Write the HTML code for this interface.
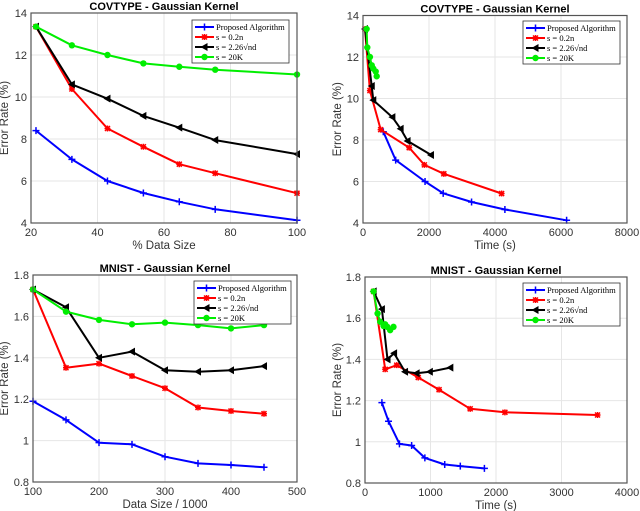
<!DOCTYPE html>
<html><head><meta charset="utf-8"><style>
html,body{margin:0;padding:0;background:#fff;}
svg{display:block;font-family:"Liberation Sans",sans-serif;}
</style></head><body>
<svg id="fig" width="640" height="511" viewBox="0 0 640 511" xmlns="http://www.w3.org/2000/svg"></svg>
<script>
// ---- data ----
const covSizeX = [21.5, 32.3, 43, 53.8, 64.6, 75.4, 100];
const covProposed = [8.4, 7.03, 6.0, 5.43, 5.01, 4.65, 4.13];
const covS02 = [13.35, 10.38, 8.5, 7.63, 6.8, 6.37, 5.42];
const covS226 = [13.35, 10.6, 9.92, 9.1, 8.54, 7.95, 7.28];
const cov20K = [13.35, 12.46, 12.0, 11.6, 11.44, 11.3, 11.07];
const covTimeProposed = [615, 990, 1880, 2430, 3290, 4300, 6170];
const covTimeS02 = [60, 210, 535, 1400, 1860, 2450, 4200];
const covTimeS226 = [60, 265, 312, 890, 1140, 1350, 2060];
const covTime20K = [110, 130, 210, 265, 312, 385, 415];
const mnSizeX = [100, 150, 200, 250, 300, 350, 400, 450];
const mnProposed = [1.19, 1.10, 0.99, 0.982, 0.922, 0.89, 0.882, 0.871];
const mnS02 = [1.73, 1.352, 1.372, 1.312, 1.253, 1.16, 1.143, 1.13];
const mnS226 = [1.73, 1.644, 1.40, 1.43, 1.34, 1.333, 1.34, 1.36];
const mn20K = [1.73, 1.623, 1.583, 1.562, 1.57, 1.558, 1.542, 1.558];
const mnTimeProposed = [258, 359, 526, 712, 914, 1217, 1455, 1823];
const mnTimeS02 = [132, 308, 485, 813, 1131, 1606, 2136, 3550];
const mnTimeS226 = [132, 258, 344, 444, 611, 788, 990, 1303];
const mnTime20K = [130, 192, 232, 283, 308, 340, 384, 435];
const covYTicks = [4, 6, 8, 10, 12, 14];
const mnYTicks = [0.8, 1, 1.2, 1.4, 1.6, 1.8];
const sizeTicks = [20, 40, 60, 80, 100];
const covTimeTicks = [0, 2000, 4000, 6000, 8000];
const mnSizeTicks = [100, 200, 300, 400, 500];
const mnTimeTicks = [0, 1000, 2000, 3000, 4000];
const legendLabels = ["Proposed Algorithm", "s = 0.2n", "s = 2.26\u221And", "s = 20K"];
const colors = ["#0000ff", "#ff0000", "#000000", "#00ee00"];

const NS = "http://www.w3.org/2000/svg";
const svg = document.getElementById("fig");
function mk(tag, attrs, parent) {
  const e = document.createElementNS(NS, tag);
  for (const k in attrs) e.setAttribute(k, attrs[k]);
  (parent || svg).appendChild(e);
  return e;
}
function marker(g, type, x, y, c) {
  let m;
  if (type === 0) {
    m = mk("path", {d:`M${x-3.5},${y}H${x+3.5}M${x},${y-3.5}V${y+3.5}`, stroke:c, "stroke-width":1.5}, g);
  } else if (type === 1) {
    m = mk("path", {d:`M${x-3},${y}H${x+3}M${x},${y-3}V${y+3}M${x-2.5},${y-2.5}L${x+2.5},${y+2.5}M${x-2.5},${y+2.5}L${x+2.5},${y-2.5}`, stroke:c, "stroke-width":1.5}, g);
  } else if (type === 2) {
    m = mk("path", {d:`M${x-4},${y}L${x+3},${y-4}L${x+3},${y+4}Z`, fill:c}, g);
  } else {
    m = mk("circle", {cx:x, cy:y, r:3.2, fill:c}, g);
  }
  
  
}
function panel(p) {
  const g = mk("g", {});
  
  
  const sx = v => p.x0 + (v - p.xmin) / (p.xmax - p.xmin) * (p.x1 - p.x0);
  const sy = v => p.y1 - (v - p.ymin) / (p.ymax - p.ymin) * (p.y1 - p.y0);
  p.xt.forEach(t => { const X = sx(t); const l = mk("line", {x1:X, x2:X, y1:p.y0, y2:p.y1, stroke:"#e6e6e6", "stroke-width":1}, g);
      });
  p.yt.forEach(t => { const Y = sy(t); const l = mk("line", {x1:p.x0, x2:p.x1, y1:Y, y2:Y, stroke:"#e6e6e6", "stroke-width":1}, g);
      });
  p.series.forEach((s, i) => {
    const sg = mk("g", {}, g);
    
    
    const pts = s.x.map((v, k) => sx(v).toFixed(1) + "," + sy(s.y[k]).toFixed(1)).join(" ");
    const pl = mk("polyline", {points:pts, fill:"none", stroke:colors[i], "stroke-width":2, "stroke-linejoin":"round"}, sg);
    
    
    s.x.forEach((v, k) => marker(sg, i, sx(v), sy(s.y[k]), colors[i]));
  });
  const box = mk("rect", {x:p.x0, y:p.y0, width:p.x1-p.x0, height:p.y1-p.y0, fill:"none", stroke:"#555", "stroke-width":1.2}, g);
  
  
  p.xt.forEach(t => { const tx = mk("text", {x:sx(t), y:p.y1+13, "text-anchor":"middle", "font-size":11, fill:"#333"}, g);
    tx.textContent = t;   });
  p.yt.forEach(t => { const tx = mk("text", {x:p.x0-4, y:sy(t)+4, "text-anchor":"end", "font-size":11, fill:"#333"}, g);
    tx.textContent = t;   });
  const xl = mk("text", {x:(p.x0+p.x1)/2, y:p.y1+26, "text-anchor":"middle", "font-size":11.5, fill:"#333"}, g);
  xl.textContent = p.xlabel;  
  const yx = p.yx, yy = (p.y0+p.y1)/2;
  const yl = mk("text", {x:yx, y:yy, "text-anchor":"middle", "font-size":11.5, fill:"#333", transform:`rotate(-90 ${yx} ${yy})`}, g);
  yl.textContent = "Error Rate (%)";  
  const ti = mk("text", {x:(p.x0+p.x1)/2, y:p.y0-3, "text-anchor":"middle", "font-size":11, "font-weight":"bold", fill:"#000"}, g);
  ti.textContent = p.title;  
  const lg = mk("g", {}, g);
  
  
  mk("rect", {x:p.lx, y:p.ly, width:97, height:43, fill:"#fff", stroke:"#333", "stroke-width":0.8}, lg);
  legendLabels.forEach((lab, i) => {
    const y = p.ly + 7 + i * 10;
    const e = mk("g", {}, lg);
    
    
    mk("line", {x1:p.lx+3, x2:p.lx+22, y1:y, y2:y, stroke:colors[i], "stroke-width":2}, e);
    marker(e, i, p.lx+12.5, y, colors[i]);
    const t = mk("text", {x:p.lx+24, y:y+3, "font-size":8.5, "font-family":"Liberation Serif, serif", fill:"#000"}, e);
    t.textContent = lab;
  });
}
panel({name:"covtype-size-chart", title:"COVTYPE - Gaussian Kernel", xlabel:"% Data Size", yx:8,
  x0:31, x1:297, y0:13, y1:223, xmin:20, xmax:100, ymin:4, ymax:14, xt:sizeTicks, yt:covYTicks, lx:192, ly:20,
  series:[{x:covSizeX,y:covProposed},{x:covSizeX,y:covS02},{x:covSizeX,y:covS226},{x:covSizeX,y:cov20K}]});
panel({name:"covtype-time-chart", title:"COVTYPE - Gaussian Kernel", xlabel:"Time (s)", yx:341,
  x0:363, x1:627, y0:15.5, y1:223, xmin:0, xmax:8000, ymin:4, ymax:14, xt:covTimeTicks, yt:covYTicks, lx:523, ly:21,
  series:[{x:covTimeProposed,y:covProposed},{x:covTimeS02,y:covS02},{x:covTimeS226,y:covS226},{x:covTime20K,y:cov20K}]});
panel({name:"mnist-size-chart", title:"MNIST - Gaussian Kernel", xlabel:"Data Size / 1000", yx:8,
  x0:33, x1:297, y0:275, y1:482, xmin:100, xmax:500, ymin:0.8, ymax:1.8, xt:mnSizeTicks, yt:mnYTicks, lx:194, ly:281,
  series:[{x:mnSizeX,y:mnProposed},{x:mnSizeX,y:mnS02},{x:mnSizeX,y:mnS226},{x:mnSizeX,y:mn20K}]});
panel({name:"mnist-time-chart", title:"MNIST - Gaussian Kernel", xlabel:"Time (s)", yx:341,
  x0:365, x1:627, y0:277, y1:483, xmin:0, xmax:4000, ymin:0.8, ymax:1.8, xt:mnTimeTicks, yt:mnYTicks, lx:523, ly:283,
  series:[{x:mnTimeProposed,y:mnProposed},{x:mnTimeS02,y:mnS02},{x:mnTimeS226,y:mnS226},{x:mnTime20K,y:mn20K}]});
</script>
</body></html>
